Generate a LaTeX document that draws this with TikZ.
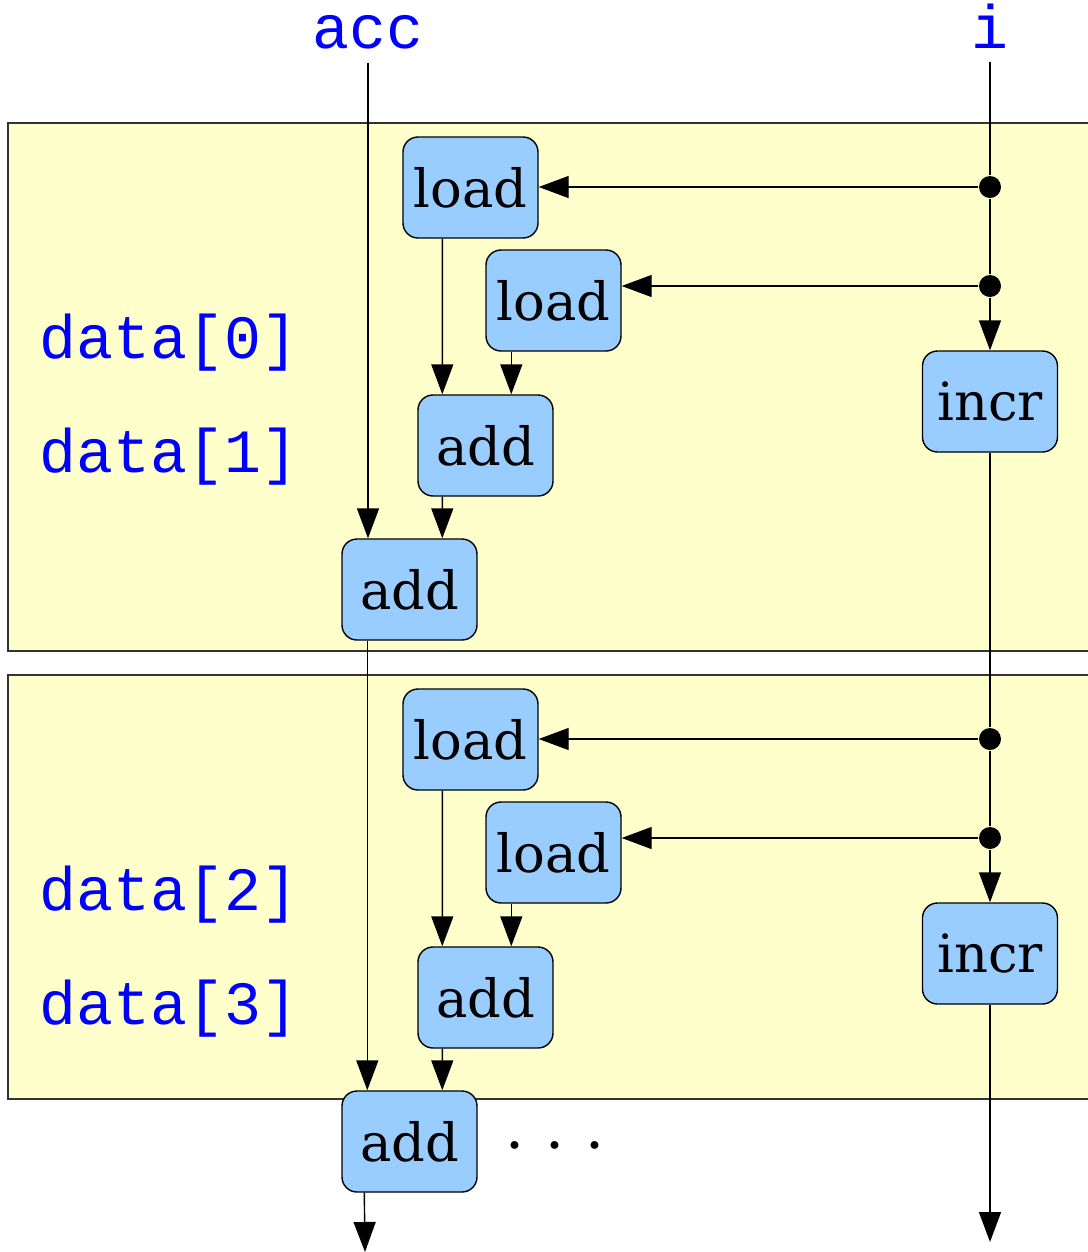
\documentclass[tikz,border=0pt]{standalone}
\usepackage{fontspec}
\setmainfont{DejaVu Serif}
\setmonofont{Liberation Mono}
\usetikzlibrary{arrows.meta,positioning}
\definecolor{opblue}{HTML}{99CCFF}
\definecolor{iterbg}{HTML}{FFFFCC}
\definecolor{varblue}{HTML}{0000FF}
\tikzset{
  op/.style={draw, fill=opblue, rounded corners=0.15cm, minimum width=1.35cm,
    minimum height=1.01cm, inner sep=0pt, font=\fontsize{15}{18}\selectfont},
  var/.style={text=varblue, inner sep=0pt, font=\ttfamily\fontsize{17.5}{20}\selectfont},
  junc/.style={circle, fill, inner sep=0pt, minimum size=0.22cm},
  arr/.style={-{Triangle[length=0.3cm,width=0.22cm]}},
  iter/.style={fill=iterbg, draw=black!80},
}
\begin{document}
\begin{tikzpicture}[line width=0.4pt]
  \useasboundingbox (0,0) rectangle (10.88,-12.52);
  % iterations
  \draw[iter] (0.08,-1.23) rectangle (11,-6.51);
  \draw[iter] (0.08,-6.75) rectangle (11,-10.99);
  % variables
  \node[var, anchor=base, outer sep=0.14cm] (acc) at (3.68,-0.48) {acc};
  \node[var, anchor=base, outer sep=0.14cm] (i) at (9.9,-0.48) {i};
  \node[var, anchor=base west] (d0) at (0.39,-3.58) {data[0]};
  \node[var, anchor=base west] (d1) at (0.39,-4.72) {data[1]};
  \node[var, anchor=base west] (d2) at (0.39,-9.10) {data[2]};
  \node[var, anchor=base west] (d3) at (0.39,-10.24) {data[3]};
  % nodes
  \node[op] (load1) at (4.705,-1.875) {load};
  \node[op] (load2) at (5.535,-3.005) {load};
  \node[op] (add1) at (4.855,-4.455) {add};
  \node[op] (add2) at (4.095,-5.895) {add};
  \node[op] (incr1) at (9.9,-4.015) {incr};
  \node[op] (load3) at (4.705,-7.395) {load};
  \node[op] (load4) at (5.535,-8.525) {load};
  \node[op] (add3) at (4.855,-9.975) {add};
  \node[op] (add4) at (4.095,-11.415) {add};
  \node[op] (incr2) at (9.9,-9.535) {incr};
  \node[font=\fontsize{17}{20}\selectfont] (more) at (5.55,-11.45) {.\hspace{0.21cm}.\hspace{0.21cm}.};
  % junctions
  \node[junc] (j1) at (9.9,-1.87) {};
  \node[junc] (j2) at (9.9,-2.86) {};
  \node[junc] (j3) at (9.9,-7.39) {};
  \node[junc] (j4) at (9.9,-8.38) {};
  \coordinate (iend) at (9.9,-12.42);
  \coordinate (accend) at (3.65,-12.52);
  % edges
  \draw (i) -- (j1);
  \draw (j1) -- (j2);
  \draw[arr] (j2) -- (incr1);
  \draw[arr] (j1) -- (j1 -| load1.east);
  \draw[arr] (j2) -- (j2 -| load2.east);
  \draw[arr] (acc) -- (acc |- add2.north);
  \draw[arr] ([xshift=0.4cm]load1.south west) -- ([xshift=0.25cm]add1.north west);
  \draw[arr] ([xshift=0.26cm]load2.south west) -- ([xshift=0.94cm]add1.north west);
  \draw[arr] ([xshift=0.25cm]add1.south west) -- ([xshift=1.01cm]add2.north west);
  \draw (incr1) -- (j3);
  \draw (j3) -- (j4);
  \draw[arr] (j4) -- (incr2);
  \draw[arr] (j3) -- (j3 -| load3.east);
  \draw[arr] (j4) -- (j4 -| load4.east);
  \draw[arr] ([xshift=0.26cm]add2.south west) -- ([xshift=0.26cm]add4.north west);
  \draw[arr] ([xshift=0.4cm]load3.south west) -- ([xshift=0.25cm]add3.north west);
  \draw[arr] ([xshift=0.26cm]load4.south west) -- ([xshift=0.94cm]add3.north west);
  \draw[arr] ([xshift=0.25cm]add3.south west) -- ([xshift=1.01cm]add4.north west);
  \draw[arr] ([xshift=0.23cm]add4.south west) -- (accend);
  \draw[arr] (incr2) -- (iend);
\end{tikzpicture}
\end{document}
